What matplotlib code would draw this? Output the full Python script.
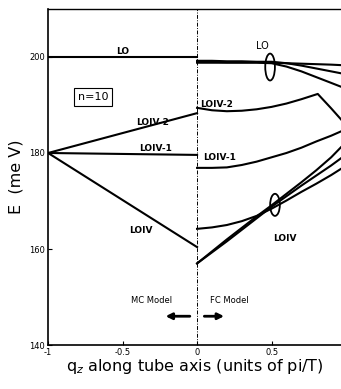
import matplotlib.pyplot as plt
from matplotlib.patches import Ellipse

plt.rcParams['font.family'] = ['Liberation Sans Narrow', 'DejaVu Sans']

# MC model side (q from -1 to 0)
q_left = [-1, 0]
lo_left = [200, 200]
loiv2_left = [180, 188.3]
loiv1_left = [180, 179.6]
loiv_left = [180, 160.4]

# FC model side (q from 0 up to the right edge)
q_right = [0, 0.1, 0.2, 0.3, 0.4, 0.5, 0.6, 0.7, 0.8, 0.9, 0.966]
lo_a = [199.0, 199.0, 198.9, 198.9, 198.9, 198.8, 198.7, 198.6, 198.5, 198.4, 198.3]
lo_b = [199.2, 199.2, 199.1, 199.1, 199.0, 199.0, 198.7, 198.2, 197.6, 197.0, 196.6]
lo_c = [198.8, 198.8, 198.8, 198.8, 198.8, 198.7, 198.0, 197.0, 195.8, 194.6, 193.8]

q_loiv2 = [0, 0.1, 0.2, 0.3, 0.4, 0.5, 0.6, 0.7, 0.81, 0.9, 0.966]
loiv2_right = [189.4, 188.9, 188.7, 188.8, 189.1, 189.6, 190.3, 191.2, 192.3, 189.3, 187.0]

loiv1_right = [176.9, 176.9, 177.0, 177.5, 178.2, 179.1, 180.0, 181.1, 182.4, 183.6, 184.5]
loiv_a = [164.2, 164.5, 165.0, 165.8, 166.9, 168.4, 170.1, 171.9, 173.6, 175.4, 176.7]
loiv_b = [157.0, 159.5, 162.0, 164.4, 166.8, 169.1, 171.5, 173.9, 176.4, 179.1, 181.2]
loiv_c = [157.0, 159.3, 161.6, 164.0, 166.4, 168.8, 171.0, 173.2, 175.3, 177.4, 178.9]

xticks = [-1, -0.5, 0, 0.5]
xtick_labels = ['-1', '-0.5', '0', '0.5']
yticks = [140, 160, 180, 200]

fig = plt.figure(figsize=(3.41, 3.89), dpi=100)
ax = fig.add_axes([0.141, 0.113, 0.859, 0.864])

lw = 1.5
for e in [lo_left, loiv2_left, loiv1_left, loiv_left]:
    ax.plot(q_left, e, color='black', lw=lw)
for e in [lo_a, lo_b, lo_c, loiv1_right, loiv_a, loiv_b, loiv_c]:
    ax.plot(q_right, e, color='black', lw=lw)
ax.plot(q_loiv2, loiv2_right, color='black', lw=lw)

ax.axvline(0, color='black', lw=0.7, ls=(0, (4, 1.5, 1, 1.5)))

ax.add_patch(Ellipse((0.49, 197.9), 0.065, 5.6, fill=False, color='black', lw=1.3))
ax.add_patch(Ellipse((0.523, 169.2), 0.065, 4.6, fill=False, color='black', lw=1.3))

fs = 6.5
ax.text(-0.5, 200.3, 'LO', fontsize=fs, fontweight='bold', ha='center', va='bottom')
ax.text(0.44, 201.3, 'LO', fontsize=fs + 0.5, ha='center', va='bottom')
ax.text(-0.3, 186.3, 'LOIV-2', fontsize=fs, fontweight='bold', ha='center', va='center')
ax.text(-0.28, 181.0, 'LOIV-1', fontsize=fs, fontweight='bold', ha='center', va='center')
ax.text(-0.38, 163.8, 'LOIV', fontsize=fs, fontweight='bold', ha='center', va='center')
ax.text(0.02, 190.2, 'LOIV-2', fontsize=fs, fontweight='bold', ha='left', va='center')
ax.text(0.04, 179.0, 'LOIV-1', fontsize=fs, fontweight='bold', ha='left', va='center')
ax.text(0.59, 162.1, 'LOIV', fontsize=fs, fontweight='bold', ha='center', va='center')
ax.text(-0.70, 191.7, 'n=10', fontsize=8, ha='center', va='center',
        bbox=dict(boxstyle='square,pad=0.35', fc='white', ec='black', lw=0.8))

ax.text(-0.17, 149.2, 'MC Model', fontsize=6, ha='right', va='center')
ax.text(0.09, 149.2, 'FC Model', fontsize=6, ha='left', va='center')
ax.annotate('', xy=(-0.23, 146.0), xytext=(-0.03, 146.0),
            arrowprops=dict(arrowstyle='-|>', lw=2, color='black', mutation_scale=9))
ax.annotate('', xy=(0.2, 146.0), xytext=(0.03, 146.0),
            arrowprops=dict(arrowstyle='-|>', lw=2, color='black', mutation_scale=9))

ax.set_xlim(-1, 0.966)
ax.set_ylim(140, 210)
ax.set_xticks(xticks)
ax.set_xticklabels(xtick_labels)
ax.set_yticks(yticks)
ax.tick_params(direction='in', length=3, width=0.8, labelsize=6, pad=2)
ax.spines['right'].set_visible(False)
ax.spines['left'].set_linewidth(1.2)
ax.spines['bottom'].set_linewidth(1.2)
ax.spines['top'].set_linewidth(1.0)

ax.set_xlabel('q$_z$ along tube axis (units of pi/T)', fontsize=11.5, labelpad=0)
ax.set_ylabel('E  (me V)', fontsize=11.5, labelpad=4, family='DejaVu Sans')

fig.savefig('out.png', dpi=100)
